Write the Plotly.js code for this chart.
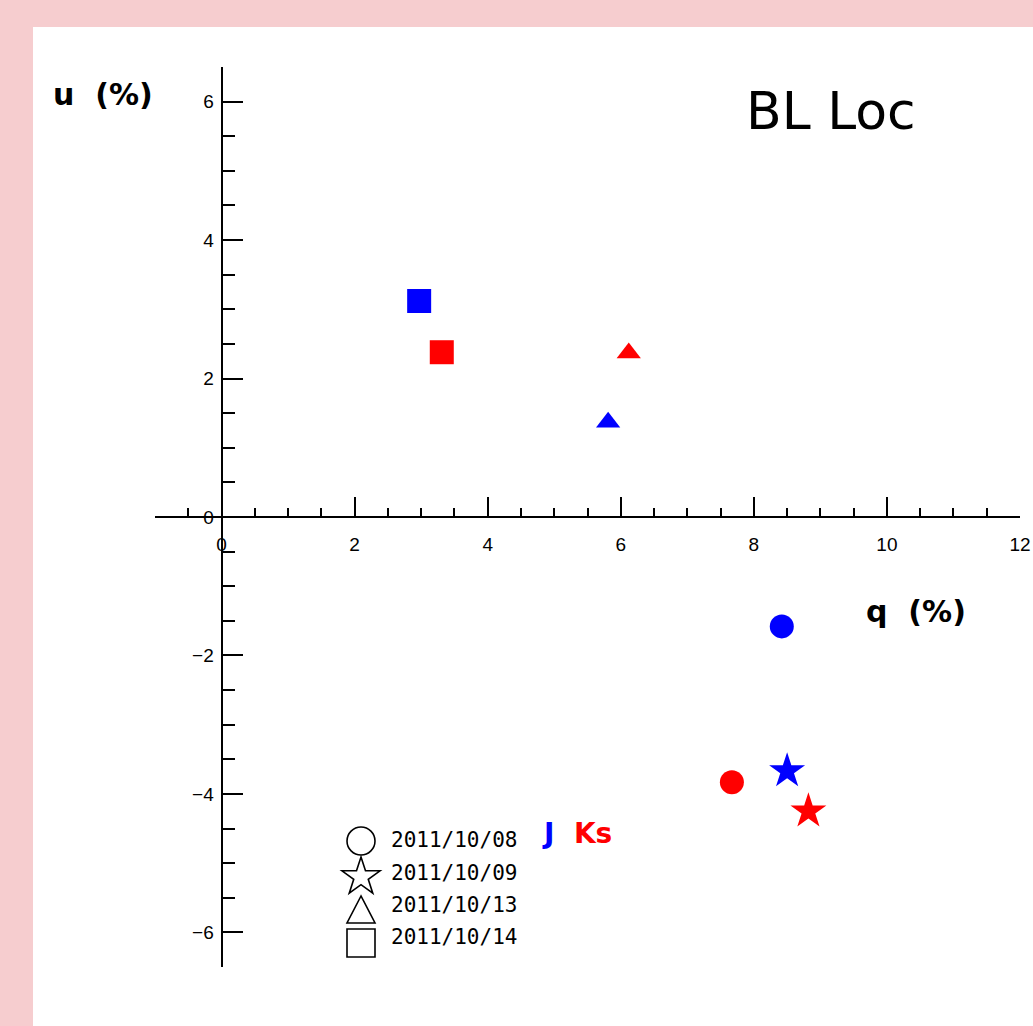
<!DOCTYPE html>
<html>
<head>
<meta charset="utf-8">
<script src="https://cdn.plot.ly/plotly-3.0.1.min.js"></script>
<style>
  html, body { margin: 0; padding: 0; background: #f6cdcf; }
  #chart { width: 1033px; height: 1026px; }
</style>
</head>
<body>
<div id="chart"></div>
<script>
// ---- data ----
const dates = ['2011/10/08', '2011/10/09', '2011/10/13', '2011/10/14'];
const bands = ['J', 'Ks'];
const qJ  = [8.42, 8.50, 5.81, 2.97];
const uJ  = [-1.58, -3.67, 1.37, 3.12];
const qKs = [7.67, 8.82, 6.12, 3.31];
const uKs = [-3.83, -4.25, 2.37, 2.38];

// ---- styles ----
const symbolByDate = ['circle', 'star', 'triangle-up', 'square'];
const sizeByDate = [24, 27, 21, 24];
const bandColor = { J: '#0000ff', Ks: '#ff0000' };

const series = { J: [qJ, uJ], Ks: [qKs, uKs] };
const traces = bands.map(b => ({
  type: 'scatter',
  mode: 'markers',
  name: b,
  x: series[b][0],
  y: series[b][1],
  text: dates,
  marker: {
    symbol: symbolByDate,
    size: sizeByDate,
    color: bandColor[b],
    opacity: 1,
    line: { width: 0 }
  },
  showlegend: false,
  hoverinfo: 'skip'
}));

// layout geometry (pixels)
const W = 1033, H = 1026;
const M = { l: 155, r: 13, t: 67, b: 59 };
const PW = W - M.l - M.r, PH = H - M.t - M.b;
const px = x => (x - M.l) / PW;        // pixel -> paper x
const py = y => (H - M.b - y) / PH;    // pixel -> paper y

const xRange = [-1, 12];
const yRange = [-6.5, 6.5];

const annotations = [];
const labelFont = { family: 'DejaVu Sans', size: 30, color: '#000', weight: 'bold' };
annotations.push({ xref: 'paper', yref: 'paper', x: px(51), y: py(95), xanchor: 'left', yanchor: 'middle',
  text: 'u&nbsp;&nbsp;(%)', showarrow: false, font: labelFont });
annotations.push({ xref: 'paper', yref: 'paper', x: px(864), y: py(611), xanchor: 'left', yanchor: 'middle',
  text: 'q&nbsp;&nbsp;(%)', showarrow: false, font: { family: 'DejaVu Sans', size: 30, color: '#000', weight: 'bold' } });

// legend key: outline icons (decoration, built in paper space) + texts
const keyX = 361;
const keyRows = [841, 877, 910, 943];
const txtRows = [840, 873, 905, 937];
const keyLine = { color: '#000', width: 1.6 };
const shapes = [{
  type: 'rect', xref: 'paper', yref: 'paper', layer: 'below',
  x0: px(33), x1: px(W + 5), y0: py(H + 5), y1: py(27),
  fillcolor: '#ffffff', line: { width: 0 }
}];
function pathFrom(points) {
  return 'M ' + points.map(p => px(p[0]) + ',' + py(p[1])).join(' L ') + ' Z';
}
function keyIcon(kind, cx, cy) {
  const h = 14;
  if (kind === 'circle') {
    return { type: 'circle', xref: 'paper', yref: 'paper', x0: px(cx - h), x1: px(cx + h), y0: py(cy + h), y1: py(cy - h), line: keyLine };
  }
  if (kind === 'square') {
    return { type: 'rect', xref: 'paper', yref: 'paper', x0: px(cx - h), x1: px(cx + h), y0: py(cy + h), y1: py(cy - h), line: keyLine };
  }
  if (kind === 'triangle-up') {
    return { type: 'path', xref: 'paper', yref: 'paper', line: keyLine,
      path: pathFrom([[cx, cy - h], [cx - h, cy + h - 1], [cx + h, cy + h - 1]]) };
  }
  // star
  const R = 20, r = R * 0.382, pts = [];
  for (let k = 0; k < 10; k++) {
    const a = -Math.PI / 2 + k * Math.PI / 5;
    const rr = k % 2 === 0 ? R : r;
    pts.push([cx + rr * Math.cos(a), cy + rr * Math.sin(a)]);
  }
  return { type: 'path', xref: 'paper', yref: 'paper', line: keyLine, path: pathFrom(pts) };
}
dates.forEach((d, i) => {
  shapes.push(keyIcon(symbolByDate[i], keyX, keyRows[i]));
  annotations.push({ xref: 'paper', yref: 'paper', x: px(389), y: py(txtRows[i]), xanchor: 'left', yanchor: 'middle',
    text: d, showarrow: false, font: { family: 'DejaVu Sans Mono', size: 21, color: '#000' } });
});
annotations.push({ xref: 'paper', yref: 'paper', x: px(540), y: py(833), xanchor: 'left', yanchor: 'middle',
  text: '<span style="color:' + bandColor.J + '">' + bands[0] + '</span>&nbsp;&nbsp;<span style="color:' + bandColor.Ks + '">' + bands[1] + '</span>',
  showarrow: false, font: { family: 'DejaVu Sans', size: 28, weight: 'bold', color: '#000' } });

const layout = {
  width: W, height: H,
  margin: M,
  font: { family: 'Liberation Sans', size: 19, color: '#000' },
  paper_bgcolor: '#f6cdcf',
  plot_bgcolor: 'rgba(0,0,0,0)',
  showlegend: false,
  hovermode: false,
  title: {
    text: 'BL Loc',
    x: 746 / W, xref: 'container', xanchor: 'left',
    y: 1 - 111 / H, yref: 'container', yanchor: 'middle',
    font: { family: 'DejaVu Sans', size: 52, color: '#000' }
  },
  xaxis: {
    range: xRange,
    anchor: 'free',
    position: (0 - yRange[0]) / (yRange[1] - yRange[0]),
    showline: true, linecolor: '#000', linewidth: 2,
    showgrid: false, zeroline: false,
    ticks: 'inside', ticklen: 19, tickwidth: 2, tickcolor: '#000',
    tick0: 0, dtick: 2,
    minor: { ticks: 'inside', ticklen: 8, tickwidth: 2, tickcolor: '#000', dtick: 0.5, tick0: 0, showgrid: false },
    tickfont: { family: 'Liberation Sans', size: 19, color: '#000' },
    ticklabelstandoff: 10,
    fixedrange: true
  },
  yaxis: {
    range: yRange,
    anchor: 'free',
    position: (0 - xRange[0]) / (xRange[1] - xRange[0]),
    showline: true, linecolor: '#000', linewidth: 2,
    showgrid: false, zeroline: false,
    ticks: 'inside', ticklen: 20, tickwidth: 2, tickcolor: '#000',
    tick0: 0, dtick: 2,
    minor: { ticks: 'inside', ticklen: 12, tickwidth: 2, tickcolor: '#000', dtick: 0.5, tick0: 0, showgrid: false },
    tickfont: { family: 'Liberation Sans', size: 19, color: '#000' },
    ticklabelstandoff: 3,
    fixedrange: true
  },
  shapes: shapes,
  annotations: annotations
};

Plotly.newPlot('chart', traces, layout, { displayModeBar: false, staticPlot: true });
</script>
</body>
</html>
